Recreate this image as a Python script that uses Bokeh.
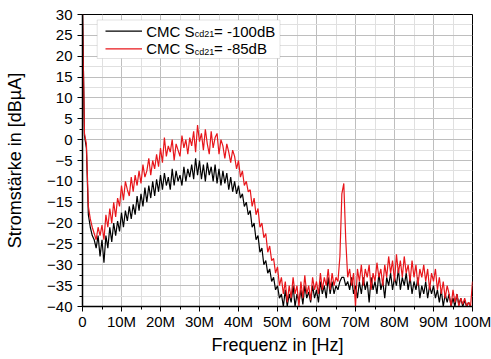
from bokeh.plotting import figure
from bokeh.models import FixedTicker, Range1d, BoxAnnotation, Label
from bokeh.embed import file_html
from bokeh.resources import INLINE

# Frequency grid in MHz (0 ... 100 MHz, 0.5 MHz steps)
freq_mhz = [i * 0.5 for i in range(201)]

# CMC Scd21 = -85 dB (red)
red_85 = [
    31, 1.5, -1, -16, -19, -21, -22.5, -24, -21, -23,
    -20.5, -24, -18, -21, -16.5, -20, -15, -18.5, -14, -16,
    -11, -14.5, -10, -12, -13.5, -9, -12.5, -8.5, -11, -7.5,
    -10.5, -6, -9, -7.5, -4.5, -8.5, -5, -7, -3.5, -6.5,
    -2, -5.5, 0.5, -4, -1.5, -3, 0, -5, -1, -2.5,
    -4, 1, -2, 0, -3.5, 0.5, -1.5, 2, -3, 3.5,
    -0.5, 1.5, -2.5, 2.5, -1, -3.5, 2, -2, 0.5, 1.5,
    -3.5, 0, -1.5, -4.5, -1, -3, -5.5, -2.5, -4, -7,
    -5, -9, -7.5, -11, -10, -12.5, -12, -16, -14, -18,
    -16.5, -21, -20, -23.5, -22.5, -27, -25.5, -29, -28.5, -32,
    -30.5, -35, -33, -37, -34, -39, -35, -38, -33, -37,
    -35, -40, -34, -38, -32.5, -37, -35, -38.5, -33, -36,
    -34, -37, -32, -36, -33, -35, -31, -36, -32, -35,
    -33, -34, -28, -13, -10.5, -24, -33, -31, -35, -32,
    -40, -31, -34, -30, -35, -31, -33, -30, -36, -32,
    -34, -29.5, -33, -31, -35, -30, -33, -28, -32, -29,
    -34, -27.5, -32, -29, -33, -28, -32, -30, -34, -29,
    -33, -30, -35, -31, -33, -30, -34, -31, -36, -32,
    -34, -31, -36, -33, -37, -34, -38, -35, -37, -40,
    -36, -39, -37, -40, -38, -39.5, -38, -40, -39, -40,
    -34,
]

# CMC Scd21 = -100 dB (black)
black_100 = [
    31, 1, -2, -18, -21, -23, -24, -26, -23, -28,
    -24, -29.5, -23, -26, -21, -24.5, -20, -23, -19.5, -22,
    -17.5, -21, -17, -19.5, -16, -19, -15.5, -18, -13.5, -17,
    -13, -16, -11.5, -15, -11, -14, -10, -13.5, -9.5, -12.5,
    -8.5, -12, -8, -11, -9, -12, -7, -11, -7.5, -10,
    -8.5, -11, -6.5, -10, -7, -9, -6, -9.5, -4.5, -8.5,
    -5, -9.5, -6, -10, -5.5, -8.5, -6.5, -10, -6, -10.5,
    -7, -11, -7.5, -10.5, -8, -12, -9, -12.5, -10, -13,
    -11, -14, -13, -16, -15, -18, -17, -21, -20, -24,
    -23, -27, -26, -30, -29, -32, -31, -34, -33, -36,
    -35, -38, -37, -40, -36, -40, -37, -39, -35, -40,
    -37, -39, -36, -39.5, -35, -38, -36.5, -39, -35, -38,
    -36, -39, -34, -37, -35, -38, -33, -37, -34, -37,
    -35, -36, -34, -33, -33, -35, -34, -36, -33, -37,
    -35, -38, -34, -37, -33, -36, -34, -39, -33, -36,
    -34, -37, -32, -36, -34, -38, -33, -35, -32, -36,
    -33, -35, -31, -36, -33, -35, -32, -36, -33, -37,
    -34, -36, -33, -38, -35, -37, -34, -38, -35, -37,
    -35, -38, -36, -39, -36, -40, -37, -39, -37, -40,
    -38, -40, -37, -39.5, -38, -40, -38.5, -40, -39, -40,
    -40,
]

x_ticks = [0, 10, 20, 30, 40, 50, 60, 70, 80, 90, 100]
x_tick_labels = ["0", "10M", "20M", "30M", "40M", "50M", "60M", "70M", "80M", "90M", "100M"]
y_ticks = [-40, -35, -30, -25, -20, -15, -10, -5, 0, 5, 10, 15, 20, 25, 30]

legend_labels = ["CMC S", "cd21", "= -100dB", "= -85dB"]

FONT = "Liberation Sans"

p = figure(width=491, height=359, output_backend="svg", toolbar_location=None,
           x_range=Range1d(0, 100), y_range=Range1d(-40, 30),
           min_border_left=82, min_border_right=19, min_border_top=14, min_border_bottom=53)

p.background_fill_color = "white"
p.border_fill_color = "white"
p.outline_line_color = "black"
p.outline_line_width = 1

p.xaxis.ticker = FixedTicker(ticks=x_ticks, minor_ticks=[v + 5 for v in x_ticks[:-1]])
p.yaxis.ticker = FixedTicker(ticks=y_ticks, minor_ticks=[v + 2.5 for v in y_ticks[:-1]])
p.xaxis.major_label_overrides = {t: l for t, l in zip(x_ticks, x_tick_labels)}

for ax in (p.xaxis, p.yaxis):
    ax.axis_line_color = "black"
    ax.axis_line_width = 1.5
    ax.major_tick_line_color = "black"
    ax.minor_tick_line_color = "black"
    ax.major_tick_out = 5
    ax.major_tick_in = 0
    ax.minor_tick_out = 3
    ax.minor_tick_in = 0
    ax.major_label_text_font = FONT
    ax.major_label_text_font_size = "15px"
    ax.major_label_text_color = "black"
    ax.axis_label_text_font = FONT
    ax.axis_label_text_font_size = "18px"
    ax.axis_label_text_font_style = "normal"
    ax.axis_label_text_color = "black"

p.xaxis.axis_label = "Frequenz in [Hz]"
p.yaxis.axis_label = "Stromstärke in [dBµA]"
p.xaxis.major_label_standoff = 1
p.yaxis.major_label_standoff = 5
p.xaxis.axis_label_standoff = 2
p.yaxis.axis_label_standoff = 19

p.grid.grid_line_color = "#bebebe"
p.grid.grid_line_width = 1
p.grid.minor_grid_line_color = "#e0e0e0"
p.grid.minor_grid_line_width = 1

p.line(freq_mhz, black_100, line_color="black", line_width=1.2)
p.line(freq_mhz, red_85, line_color="#e8161b", line_width=1.2)

# legend (manual, to allow subscript)
def px_x(px):
    return (px - 82) / 390 * 100

def px_y(py):
    return 30 - (py - 14) / 292 * 70

box = BoxAnnotation(left=px_x(96.7), right=px_x(279.5), top=px_y(19.5), bottom=px_y(58),
                    fill_color="white", fill_alpha=1, line_color="#a0a0a0", line_width=1,
                    level="underlay")
p.add_layout(box)

rows = [(30.7, "black", legend_labels[2]), (48.3, "#e8161b", legend_labels[3])]
for ry, col, rest in rows:
    p.segment(x0=[px_x(105)], y0=[px_y(ry)], x1=[px_x(141.5)], y1=[px_y(ry)],
              line_color=col, line_width=1.2)
    p.add_layout(Label(x=px_x(145.7), y=px_y(ry), text=legend_labels[0], text_font=FONT,
                       text_font_size="15px", text_baseline="middle", text_color="black"))
    p.add_layout(Label(x=px_x(194.3), y=px_y(ry + 2.8), text=legend_labels[1], text_font=FONT,
                       text_font_size="9px", text_baseline="middle", text_color="black"))
    p.add_layout(Label(x=px_x(213.5), y=px_y(ry), text=rest, text_font=FONT,
                       text_font_size="15px", text_baseline="middle", text_color="black"))

open("out.html", "w").write(file_html(p, INLINE))
